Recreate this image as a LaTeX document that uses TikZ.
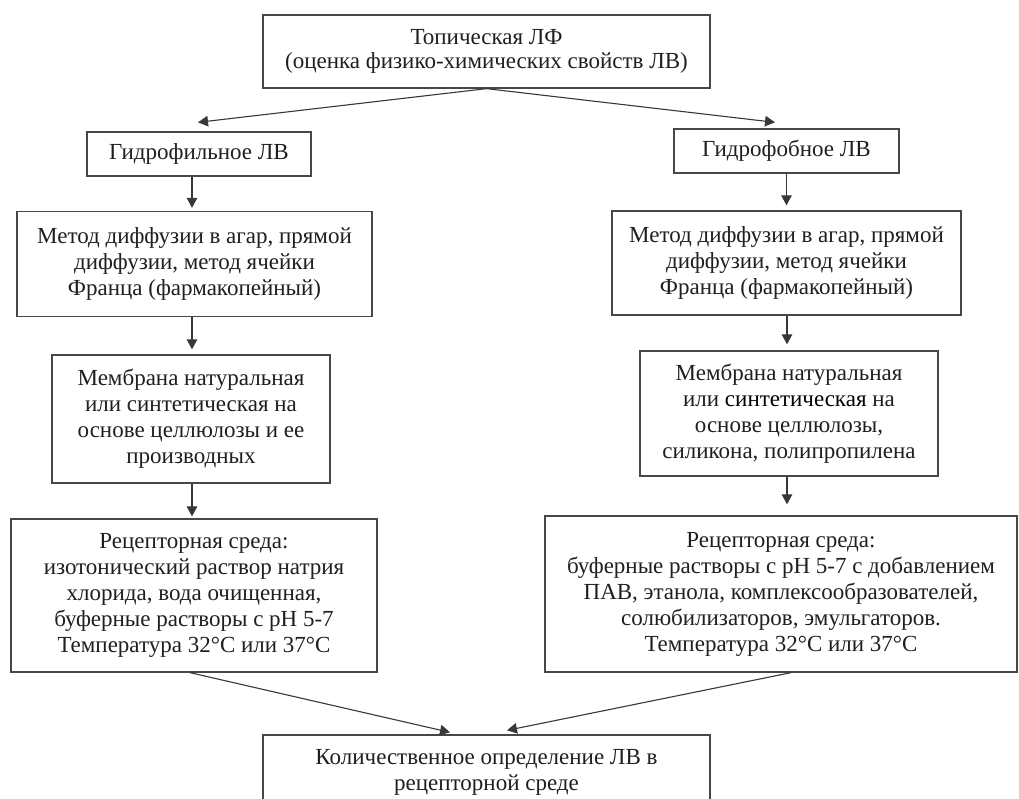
\documentclass[tikz,border=0pt]{standalone}
\usepackage{fontspec}
\setmainfont{Liberation Serif}
\usetikzlibrary{calc,arrows.meta}
\begin{document}
\begin{tikzpicture}[x=1pt,y=-1pt,
  box/.style={draw=black!72, line width=1.3pt, rectangle, inner sep=0pt,
    align=center, text=black!88, font=\fontsize{23}{26}\selectfont},
  arr/.style={draw=black!78, line width=1.1pt, -{Triangle[length=10pt,width=10.5pt]}}]
\useasboundingbox (0,0) rectangle (1019,799);
\clip (0,0) rectangle (1019,799);
\fill[white] (0,0) rectangle (1019,799);

\node[box, minimum width=447pt, minimum height=73pt] (top) at (486.5,51.5)
  {\raisebox{-2pt}{Топическая ЛФ}\\(оценка физико-химических свойств ЛВ)};
\node[box, minimum width=224pt, minimum height=44pt] (gf) at (199,154)
  {Гидрофильное ЛВ};
\node[box, minimum width=225pt, minimum height=44pt] (gb) at (786.5,151)
  {Гидрофобное ЛВ};
\node[box, minimum width=355pt, minimum height=105pt] (ml) at (194.5,264)
  {Метод диффузии в агар, прямой\\диффузии, метод ячейки\\Франца (фармакопейный)};
\node[box, minimum width=349pt, minimum height=104pt] (mr) at (786.5,263)
  {Метод диффузии в агар, прямой\\диффузии, метод ячейки\\Франца (фармакопейный)};
\node[box, minimum width=278pt, minimum height=128pt] (meml) at (191,419)
  {Мембрана натуральная\\или синтетическая на\\основе целлюлозы и ее\\производных};
\node[box, minimum width=298pt, minimum height=125pt] (memr) at (789,413.5)
  {Мембрана натуральная\\или {\color{black}синтетическая} на\\основе целлюлозы,\\силикона, полипропилена};
\node[box, minimum width=366pt, minimum height=153pt] (rl) at (194,595.5)
  {Рецепторная среда:\\изотонический раствор натрия\\хлорида, вода очищенная,\\буферные растворы с pH 5-7\\Температура 32°C или 37°C};
\node[box, minimum width=472pt, minimum height=156pt] (rr) at (781,594)
  {Рецепторная среда:\\буферные растворы с pH 5-7 с добавлением\\ПАВ, этанола, комплексообразователей,\\солюбилизаторов, эмульгаторов.\\Температура 32°C или 37°C};
\node[box, minimum width=447pt, minimum height=74pt] (q) at (486.5,772)
  {Количественное определение ЛВ в\\рецепторной среде};

\draw[arr] (top.south) -- ($(gf.north)+(-1,-9)$);
\draw[arr] (top.south) -- ($(gb.north)+(-11.5,-6)$);
\draw[arr] ($(gf.south)+(-7,0)$) -- ($(ml.north)+(-2.5,-3)$);
\draw[arr] ($(gb.south)+(0,0)$) -- ($(mr.north)+(0,-5)$);
\draw[arr] ($(ml.south)+(-2.5,0)$) -- ($(meml.north)+(1,-5)$);
\draw[arr] ($(mr.south)+(0.5,0)$) -- ($(memr.north)+(-2,-6)$);
\draw[arr] ($(meml.south)+(1,0)$) -- ($(rl.north)+(-2,-2)$);
\draw[arr] ($(memr.south)+(-2,0)$) -- ($(rr.north)+(6,-11)$);
\draw[arr] ($(rl.south)+(-4,0)$) -- ($(q.north)+(-36.5,-2)$);
\draw[arr] ($(rr.south)+(10,0)$) -- ($(q.north)+(20.5,-4)$);
\end{tikzpicture}
\end{document}
